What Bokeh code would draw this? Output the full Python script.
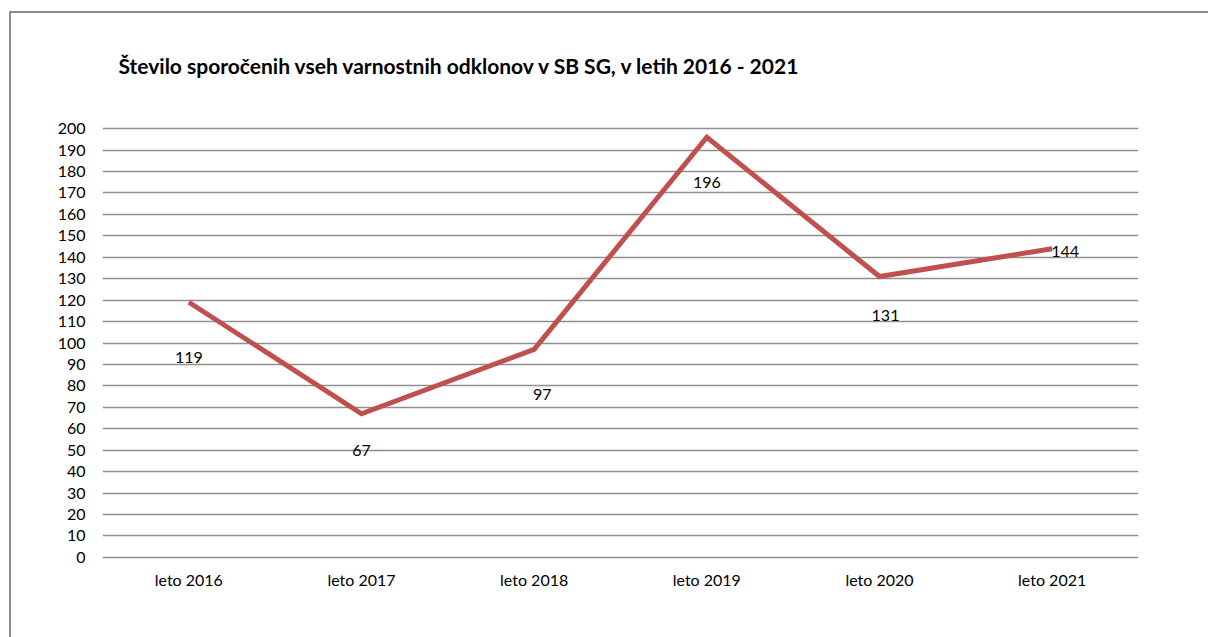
from bokeh.plotting import figure
from bokeh.models import ColumnDataSource, Range1d, FixedTicker
from bokeh.core.properties import value
from bokeh.embed import file_html
from bokeh.resources import INLINE

# data
categories = ["leto 2016", "leto 2017", "leto 2018", "leto 2019", "leto 2020", "leto 2021"]
counts = [119, 67, 97, 196, 131, 144]
labels = [str(v) for v in counts]
y_ticks = list(range(0, 201, 10))
title_text = "Število sporočenih vseh varnostnih odklonov v SB SG,  v letih 2016 - 2021"

# label placement (screen pixel offsets, as in the original chart)
label_dx = [0, 0, 8, 0, 6, 13]
label_dy = [55, 37, 45, 45, 39, 3]

FONT = "Lato"

p = figure(
    x_range=categories,
    y_range=Range1d(-1, 201),
    width=1208, height=637,
    output_backend="svg", toolbar_location=None,
    min_border_left=102, min_border_right=70,
    min_border_top=126, min_border_bottom=78,
)
# thin grey chart-area border (left and top edges only visible)
p.styles = {
    "background": ("linear-gradient(#8c8c8c,#8c8c8c) 9px 11px / 2px 100% no-repeat, "
                   "linear-gradient(#8c8c8c,#8c8c8c) 9px 11px / 100% 2px no-repeat, white"),
}
p.border_fill_color = None
p.background_fill_color = "white"
p.outline_line_color = None

p.title.text = title_text
p.title.text_font = FONT
p.title.text_font_size = "21px"
p.title.text_font_style = "bold"
p.title.text_color = "#000000"
p.title.align = "left"
p.title.vertical_align = "top"
p.title.offset = 16
p.title.standoff = 93

src = ColumnDataSource(dict(x=categories, y=counts, lab=labels, dx=label_dx, dy=label_dy))
p.line("x", "y", source=src, line_color="#C0504D", line_width=5, line_join="miter")
p.text("x", "y", text="lab", source=src, x_offset="dx", y_offset="dy",
       text_align="center", text_baseline="middle",
       text_font=value(FONT), text_font_size="16px", text_color="#000000")

p.yaxis.ticker = FixedTicker(ticks=y_ticks)
p.ygrid.ticker = FixedTicker(ticks=y_ticks)
p.ygrid.grid_line_color = "#8f8f8f"
p.ygrid.grid_line_width = 1.5
p.xgrid.grid_line_color = None

for ax in (p.xaxis[0], p.yaxis[0]):
    ax.axis_line_color = None
    ax.major_tick_line_color = None
    ax.minor_tick_line_color = None
    ax.major_label_text_font = FONT
    ax.major_label_text_font_size = "16px"
    ax.major_label_text_color = "#000000"

p.yaxis.major_label_standoff = 11
p.xaxis.major_label_standoff = 4

open("out.html", "w").write(file_html(p, INLINE))
